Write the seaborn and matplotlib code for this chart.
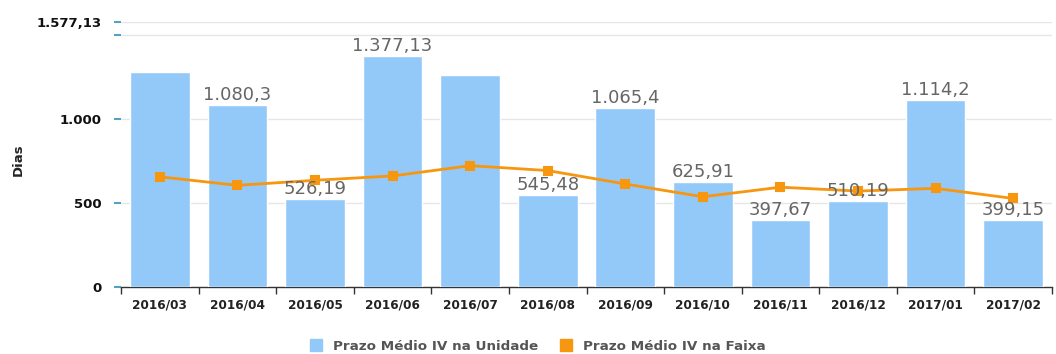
import matplotlib
matplotlib.use("Agg")
import matplotlib.pyplot as plt
import seaborn as sns
import pandas as pd
from matplotlib.lines import Line2D

months = ["2016/03", "2016/04", "2016/05", "2016/06", "2016/07", "2016/08",
          "2016/09", "2016/10", "2016/11", "2016/12", "2017/01", "2017/02"]
unidade = [1281, 1080.3, 526.19, 1377.13, 1262, 545.48,
           1065.4, 625.91, 397.67, 510.19, 1114.2, 399.15]
unidade_labels = ["", "1.080,3", "526,19", "1.377,13", "", "545,48",
                  "1.065,4", "625,91", "397,67", "510,19", "1.114,2", "399,15"]
faixa = [656, 605, 635, 661, 722, 693, 613, 537, 594, 571, 587, 527]
yticks = [0, 500, 1000, 1500, 1577.13]
ytick_labels = ["0", "500", "1.000", "", "1.577,13"]

bar_color = "#93C9F9"
line_color = "#F7960F"

df = pd.DataFrame({"mes": months, "unidade": unidade, "faixa": faixa})

sns.set_style("white")
plt.rcParams["font.family"] = ["DejaVu Sans"]

fig = plt.figure(figsize=(10.56, 3.54), dpi=100)
ax = fig.add_axes([121 / 1056, 1 - 287 / 354, (1052 - 121) / 1056, (287 - 22) / 354])

sns.barplot(data=df, x="mes", y="unidade", color=bar_color, width=0.77,
            saturation=1, ax=ax, zorder=2)
sns.pointplot(data=df, x="mes", y="faixa", color=line_color, markers="s",
              markersize=6, linewidth=2, ax=ax, zorder=4)

for i, (v, lab) in enumerate(zip(unidade, unidade_labels)):
    if lab:
        ax.text(i, v + 6, lab, ha="center", va="bottom", fontsize=13,
                color="#666666", zorder=5)

ax.set_ylim(0, 1577.13)
ax.set_xlim(-0.5, len(months) - 0.5)
ax.set_yticks(yticks)
ax.set_yticklabels(ytick_labels, fontsize=9.5, fontweight="bold", color="#111111")
ax.tick_params(axis="y", left=True, length=5, width=1.5, color="#4FA3C7", pad=9)
for y in yticks[1:]:
    ax.axhline(y, color="#E6E6E6", linewidth=1, zorder=0)

ax.set_xticks(range(len(months)))
ax.set_xticklabels(months, fontsize=8.7, fontweight="bold", color="#222222")
ax.tick_params(axis="x", which="major", length=0, pad=8)
ax.set_xticks([i - 0.5 for i in range(len(months) + 1)], minor=True)
ax.tick_params(axis="x", which="minor", bottom=True, length=5, width=1, color="#333333")

for s in ["left", "right", "top"]:
    ax.spines[s].set_visible(False)
ax.spines["bottom"].set_color("#333333")
ax.spines["bottom"].set_linewidth(1)
ax.spines["bottom"].set_zorder(1)

ax.set_xlabel("")
ax.set_ylabel("Dias", fontsize=9.5, fontweight="bold", color="#222222")
ax.yaxis.set_label_coords(-0.103, 0.48)

handles = [
    Line2D([], [], marker="s", linestyle="", markersize=8, color=bar_color),
    Line2D([], [], marker="s", linestyle="", markersize=8, color=line_color),
]
fig.legend(handles, ["Prazo Médio IV na Unidade", "Prazo Médio IV na Faixa"],
           loc="center", bbox_to_anchor=(534 / 1056, 1 - 346 / 354), ncol=2,
           frameon=False, handletextpad=0.3, columnspacing=1.0,
           labelcolor="#555555", prop={"weight": "bold", "size": 9.7})

fig.savefig("out.png", dpi=100)
